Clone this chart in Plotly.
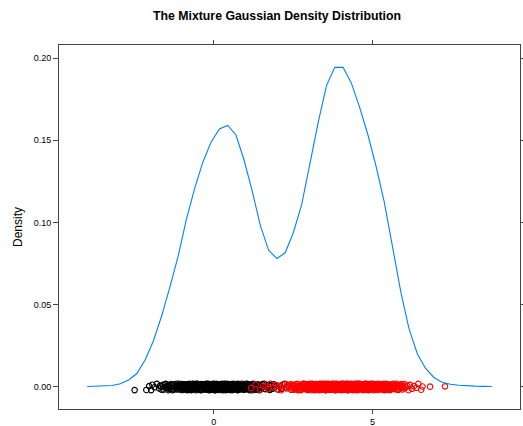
import plotly.graph_objects as go

# ---- density curve ----
dens_x = [-3.98, -3.72, -3.46, -3.20, -2.94, -2.68, -2.42, -2.16, -1.90, -1.64,
          -1.38, -1.12, -0.86, -0.60, -0.34, -0.08, 0.18, 0.44, 0.70, 0.95,
          1.21, 1.47, 1.73, 1.99, 2.25, 2.51, 2.77, 3.03, 3.29, 3.55,
          3.81, 4.07, 4.33, 4.59, 4.85, 5.11, 5.37, 5.63, 5.89, 6.15,
          6.41, 6.67, 6.93, 7.19, 7.45, 7.71, 7.97, 8.23, 8.49, 8.75]
dens_y = [0.0001, 0.0002, 0.0004, 0.0007, 0.0018, 0.0041, 0.0080, 0.0162, 0.0278, 0.0430,
          0.0606, 0.0794, 0.1019, 0.1207, 0.1368, 0.1490, 0.1569, 0.1590, 0.1532, 0.1383,
          0.1192, 0.0979, 0.0830, 0.0780, 0.0815, 0.0940, 0.1110, 0.1371, 0.1611, 0.1833,
          0.1944, 0.1944, 0.1849, 0.1702, 0.1535, 0.1341, 0.1122, 0.0849, 0.0575, 0.0350,
          0.0199, 0.0111, 0.0056, 0.0027, 0.0015, 0.0009, 0.0005, 0.0003, 0.0002, 0.0001]

# ---- group 1 observations (black) ----
black_x = [-2.49, -2.12, -2.03,
           -1.97, -1.93, -1.86, -1.79, -1.72, -1.66, -1.58, -1.53,
           -1.49, -1.46, -1.43, -1.41, -1.38, -1.35, -1.31, -1.29, -1.26, -1.22,
           -1.19, -1.17, -1.13, -1.10, -1.08, -1.05, -1.03, -1.01,
           -0.99, -0.97, -0.95, -0.94, -0.92, -0.90, -0.88, -0.86, -0.84, -0.83,
           -0.81, -0.79, -0.77, -0.76, -0.74, -0.72, -0.70, -0.68, -0.66, -0.65,
           -0.63, -0.61, -0.59, -0.57, -0.56, -0.54, -0.52, -0.51,
           -0.49, -0.48, -0.46, -0.45, -0.43, -0.42, -0.41, -0.39, -0.38, -0.36,
           -0.35, -0.33, -0.32, -0.31, -0.29, -0.28, -0.26, -0.25, -0.23, -0.22,
           -0.21, -0.19, -0.18, -0.16, -0.15, -0.13, -0.12, -0.11, -0.09, -0.08,
           -0.06, -0.05, -0.03, -0.02, -0.01,
           0.01, 0.02, 0.04, 0.05, 0.06, 0.08, 0.09, 0.11, 0.12, 0.13,
           0.15, 0.16, 0.18, 0.19, 0.20, 0.22, 0.23, 0.24, 0.26, 0.27,
           0.29, 0.30, 0.31, 0.33, 0.34, 0.35, 0.37, 0.38, 0.40, 0.41,
           0.42, 0.44, 0.45, 0.46, 0.48, 0.49,
           0.51, 0.52, 0.54, 0.56, 0.57, 0.59, 0.61, 0.62, 0.64, 0.66,
           0.67, 0.69, 0.71, 0.72, 0.74, 0.76, 0.77, 0.79, 0.81, 0.82,
           0.84, 0.86, 0.87, 0.89, 0.91, 0.92, 0.94, 0.96, 0.97, 0.99,
           1.01, 1.03, 1.06, 1.08, 1.10, 1.13, 1.15, 1.17, 1.19, 1.22,
           1.24, 1.26, 1.29, 1.31, 1.33, 1.35, 1.38, 1.40, 1.42, 1.44, 1.47, 1.49,
           1.52, 1.55, 1.59, 1.63, 1.66, 1.70, 1.74, 1.77, 1.81, 1.85, 1.89, 1.93, 1.97,
           2.02, 2.08, 2.14, 2.21, 2.28, 2.35, 2.44,
           -1.69, -1.64, -1.60, -1.56, -1.51, -1.47, -1.43, -1.39, -1.34, -1.30, -1.26, -1.22,
           -1.18, -1.16, -1.13, -1.11, -1.09, -1.06, -1.04, -1.02, -0.99, -0.97, -0.95,
           -0.92, -0.90, -0.88, -0.86, -0.83, -0.81, -0.79, -0.77, -0.75, -0.73, -0.71,
           -0.69, -0.68, -0.66, -0.64, -0.63, -0.61, -0.59, -0.58, -0.56, -0.54, -0.53, -0.51,
           -0.49, -0.48, -0.46, -0.44, -0.43, -0.41, -0.39, -0.38, -0.36, -0.34, -0.33, -0.31,
           -0.29, -0.28, -0.26, -0.24, -0.23, -0.21,
           -0.19, -0.18, -0.16, -0.15, -0.13, -0.12, -0.10, -0.09, -0.07, -0.06, -0.04, -0.03,
           -0.01, 0.00, 0.02, 0.03, 0.05, 0.06, 0.08, 0.09, 0.11, 0.12, 0.14, 0.15,
           0.17, 0.18, 0.20, 0.21, 0.23, 0.25, 0.27, 0.29,
           0.31, 0.33, 0.34, 0.36, 0.38, 0.40, 0.41, 0.43, 0.45, 0.47, 0.48, 0.50,
           0.52, 0.54, 0.55, 0.57, 0.59, 0.61, 0.62, 0.64, 0.66, 0.68, 0.69, 0.71,
           0.73, 0.75, 0.76, 0.78,
           0.81, 0.84, 0.86, 0.89, 0.92, 0.95, 0.97, 1.00, 1.03, 1.06, 1.08, 1.11,
           1.14, 1.17, 1.19, 1.22, 1.25, 1.28,
           1.32, 1.37, 1.43, 1.48, 1.54, 1.60, 1.67, 1.75]
black_y = [-0.0021, -0.0020, 0.0003, -0.0021, 0.0012, -0.0004, 0.0017, -0.0011, 0.0001, -0.0018,
           0.0014, -0.0007, 0.0005, -0.0022, 0.0010, -0.0002, 0.0016, -0.0013, 0.0007, -0.0019,
           0.0002, -0.0009, 0.0018, -0.0016, 0.0004, -0.0005, 0.0011, -0.0020, 0.0009, -0.0001,
           -0.0014, 0.0015, -0.0008, 0.0006, -0.0017, 0.0013, -0.0003, 0.0000, -0.0021, 0.0010,
           -0.0006, 0.0017, -0.0012, 0.0004, -0.0019, 0.0008, -0.0010, 0.0016, -0.0002, 0.0003,
           -0.0015, 0.0012, -0.0022, 0.0007, -0.0005, 0.0018, -0.0013, 0.0001, -0.0008, 0.0014,
           -0.0018, 0.0005, -0.0003, 0.0011, -0.0020, 0.0009, -0.0011, 0.0015, -0.0007, 0.0002,
           -0.0016, 0.0013, -0.0001, 0.0006, -0.0012, 0.0017, -0.0019, 0.0004, -0.0009, 0.0010,
           -0.0004, 0.0016, -0.0021, 0.0008, -0.0014, 0.0000, -0.0006, 0.0012, -0.0017, 0.0003,
           0.0018, -0.0010, 0.0007, -0.0002, 0.0014, -0.0022, 0.0005, -0.0013, 0.0011, -0.0007,
           0.0001, -0.0017, 0.0015, -0.0005, 0.0009, -0.0020, 0.0013, -0.0001, 0.0006, -0.0014,
           0.0017, -0.0008, 0.0002, -0.0018, 0.0011, -0.0003, 0.0016, -0.0012, 0.0004, -0.0021,
           0.0010, -0.0006, 0.0018, -0.0015, 0.0003, -0.0009, 0.0014, -0.0019, 0.0007, -0.0002,
           -0.0011, 0.0012, -0.0022, 0.0005, -0.0004, 0.0017, -0.0016, 0.0000, -0.0010, 0.0015,
           -0.0013, 0.0008, -0.0007, 0.0002, -0.0020, 0.0011, -0.0001, 0.0014, -0.0017, 0.0006,
           -0.0005, 0.0018, -0.0012, 0.0009, -0.0019, 0.0003, -0.0008, 0.0013, -0.0015, 0.0001,
           0.0016, -0.0003, 0.0007, -0.0021, 0.0012, -0.0010, 0.0004, -0.0014, 0.0017, -0.0006,
           0.0000, -0.0018, 0.0010, -0.0002, 0.0015, -0.0011, 0.0005, -0.0022, 0.0008, -0.0009,
           0.0013, -0.0004, 0.0018, -0.0016, 0.0002, -0.0007, 0.0011, -0.0020, 0.0006, -0.0013,
           0.0014, -0.0001, 0.0009, -0.0017, 0.0003, -0.0012, 0.0016, -0.0005, 0.0007, -0.0019,
           0.0005, -0.0019, 0.0012, -0.0003, 0.0017, -0.0010, 0.0001, -0.0015, 0.0009, -0.0022,
           0.0014, -0.0006, 0.0003, -0.0017, 0.0011, -0.0001, 0.0018, -0.0012, 0.0006, -0.0008,
           0.0016, -0.0020, 0.0008, -0.0004, 0.0013, -0.0014, 0.0000, -0.0009, 0.0015, -0.0018,
           0.0002, -0.0011, 0.0010, -0.0021, 0.0007, -0.0002, 0.0017, -0.0016, 0.0004, -0.0007,
           0.0012, -0.0013, 0.0018, -0.0005, 0.0001, -0.0019, 0.0009, -0.0010, 0.0014, -0.0003,
           0.0006, -0.0022, 0.0016, -0.0008, 0.0003, -0.0015, 0.0011, -0.0001, 0.0007, -0.0017,
           0.0013, -0.0004, 0.0000, -0.0012, 0.0018, -0.0020, 0.0005, -0.0006, 0.0010, -0.0014,
           0.0015, -0.0009, 0.0002, -0.0018, 0.0008, -0.0003, 0.0016, -0.0011, 0.0004, -0.0021,
           0.0011, -0.0007, 0.0017, -0.0015, 0.0001, -0.0010, 0.0013, -0.0019, 0.0006, -0.0002,
           0.0009, -0.0016, 0.0014, -0.0005, 0.0003, -0.0022, 0.0012, -0.0008, 0.0018, -0.0012,
           0.0000, -0.0017, 0.0007, -0.0001, 0.0015, -0.0013, 0.0004, -0.0020, 0.0010, -0.0006,
           0.0016, -0.0003, 0.0008, -0.0018, 0.0002, -0.0009, 0.0014, -0.0015, 0.0005, -0.0011,
           0.0012, -0.0021, 0.0017, -0.0007, 0.0006, -0.0014, 0.0001, -0.0004, 0.0011, -0.0019,
           0.0003, -0.0010, 0.0018, -0.0016, 0.0009, -0.0002, 0.0013, -0.0012, 0.0007, -0.0022,
           0.0015, -0.0005, 0.0004, -0.0017, 0.0010, -0.0008, 0.0016, -0.0013, 0.0002, -0.0018]

# ---- group 2 observations (red) ----
red_x = [1.18, 1.32, 1.46,
         1.56, 1.64, 1.72, 1.79, 1.87, 1.95,
         2.03, 2.07, 2.12, 2.16, 2.21, 2.25, 2.29, 2.33, 2.38, 2.42, 2.45, 2.49,
         2.51, 2.54, 2.56, 2.58, 2.61, 2.63, 2.65, 2.68, 2.70, 2.72,
         2.74, 2.77, 2.79, 2.81, 2.83, 2.86, 2.88, 2.90, 2.92, 2.95, 2.97, 2.99,
         3.01, 3.02, 3.04, 3.05, 3.06, 3.08, 3.09, 3.11, 3.12, 3.13,
         3.15, 3.16, 3.18, 3.19, 3.20, 3.22, 3.23, 3.24, 3.26, 3.27,
         3.29, 3.30, 3.31, 3.33, 3.34, 3.35, 3.37, 3.38, 3.40, 3.41,
         3.42, 3.44, 3.45, 3.46, 3.48, 3.49,
         3.50, 3.51, 3.53, 3.53, 3.54, 3.56, 3.57, 3.57, 3.59, 3.60,
         3.61, 3.62, 3.64, 3.64, 3.65, 3.67, 3.68, 3.69, 3.69, 3.71,
         3.72, 3.73, 3.75, 3.75, 3.76, 3.78, 3.79, 3.80, 3.80, 3.82,
         3.83, 3.85, 3.85, 3.86, 3.88, 3.89, 3.90, 3.91, 3.92, 3.93,
         3.94, 3.94, 3.96, 3.97, 3.98, 3.98, 3.99, 3.99,
         4.00, 4.01, 4.01, 4.02, 4.03, 4.04, 4.05, 4.06, 4.06, 4.07,
         4.08, 4.09, 4.10, 4.11, 4.12, 4.12, 4.13, 4.14, 4.15, 4.16,
         4.17, 4.18, 4.18, 4.19, 4.20, 4.21, 4.22, 4.23, 4.24, 4.24,
         4.25, 4.26, 4.27, 4.28, 4.29, 4.30, 4.31, 4.32, 4.33, 4.34,
         4.35, 4.36, 4.37, 4.38, 4.39, 4.40, 4.41, 4.42, 4.44, 4.45, 4.47, 4.49,
         4.50, 4.51, 4.52, 4.53, 4.55, 4.56, 4.57, 4.58, 4.59, 4.61,
         4.62, 4.63, 4.64, 4.65, 4.67, 4.68, 4.69, 4.70, 4.71, 4.73,
         4.74, 4.75, 4.76, 4.77, 4.79, 4.80, 4.81, 4.82, 4.83, 4.85,
         4.86, 4.87, 4.88, 4.89, 4.91, 4.92, 4.93, 4.94, 4.95, 4.96,
         4.97, 4.98, 4.99, 4.99,
         5.01, 5.02, 5.04, 5.05, 5.07, 5.08, 5.10, 5.11, 5.13, 5.14,
         5.16, 5.17, 5.19, 5.20, 5.22, 5.23, 5.25, 5.26, 5.28, 5.29,
         5.31, 5.32, 5.34, 5.35, 5.37, 5.38, 5.40, 5.41, 5.43, 5.44,
         5.46, 5.47, 5.48, 5.49,
         5.51, 5.53, 5.55, 5.58, 5.60, 5.62, 5.64, 5.66, 5.68, 5.71,
         5.73, 5.75, 5.77, 5.79, 5.81, 5.84, 5.86, 5.88, 5.90, 5.92,
         5.94, 5.96, 5.99,
         6.02, 6.05, 6.09, 6.13, 6.18, 6.24, 6.30, 6.38, 6.44,
         6.53, 6.57, 6.81, 7.28,
         3.07, 3.25, 3.43, 4.54, 4.72, 4.84, 5.70,
         2.41, 2.45, 2.48, 2.52, 2.55, 2.59, 2.62, 2.66, 2.69, 2.73, 2.76, 2.80, 2.84, 2.88,
         2.91, 2.93, 2.95, 2.96, 2.98, 3.00, 3.02, 3.04, 3.06, 3.07, 3.09, 3.11, 3.13, 3.15,
         3.16, 3.18, 3.20, 3.22, 3.24, 3.25, 3.27, 3.29, 3.31, 3.33, 3.34, 3.36, 3.38, 3.39,
         3.40, 3.41, 3.43, 3.44, 3.46, 3.47, 3.48, 3.50, 3.51, 3.52, 3.54, 3.55, 3.56, 3.58,
         3.59, 3.60, 3.62, 3.63, 3.64, 3.66, 3.67, 3.68, 3.70, 3.71, 3.72, 3.74, 3.75, 3.76,
         3.78, 3.79, 3.80, 3.82, 3.83, 3.84, 3.86, 3.87, 3.88, 3.89,
         3.90, 3.91, 3.92, 3.94, 3.95, 3.96, 3.97, 3.98, 4.00, 4.01, 4.02, 4.03, 4.04, 4.06,
         4.07, 4.08, 4.09, 4.10, 4.12, 4.13, 4.14, 4.15, 4.16, 4.18, 4.19, 4.20, 4.21, 4.22,
         4.24, 4.25, 4.26, 4.27, 4.28, 4.30, 4.31, 4.32, 4.33, 4.34, 4.36, 4.37, 4.38, 4.39,
         4.40, 4.42, 4.43, 4.44, 4.46, 4.47, 4.48, 4.50, 4.51, 4.53, 4.54, 4.55, 4.57, 4.58,
         4.59, 4.61, 4.62, 4.64, 4.65, 4.66, 4.68, 4.69, 4.71, 4.72, 4.73, 4.75, 4.76, 4.77,
         4.79, 4.80, 4.82, 4.83, 4.84, 4.86, 4.87, 4.89,
         4.90, 4.92, 4.94, 4.96, 4.98, 5.00, 5.02, 5.04, 5.06, 5.08, 5.10, 5.12, 5.14,
         5.16, 5.18, 5.20, 5.22, 5.24, 5.26, 5.28, 5.30, 5.32, 5.34, 5.36, 5.37, 5.39,
         5.41, 5.44, 5.47, 5.50, 5.53, 5.56, 5.59, 5.62, 5.65, 5.68, 5.71, 5.74, 5.77,
         5.80, 5.84, 5.88]
red_y = [-0.0009, 0.0014, -0.0020, 0.0006, 0.0001, -0.0013, 0.0017, -0.0004, 0.0010, -0.0017,
         0.0003, -0.0022, 0.0012, -0.0007, 0.0018, -0.0011, 0.0005, -0.0001, 0.0015, -0.0019,
         0.0008, -0.0005, 0.0013, -0.0015, 0.0000, -0.0010, 0.0016, -0.0021, 0.0004, -0.0003,
         0.0011, -0.0018, 0.0007, -0.0008, 0.0017, -0.0012, 0.0002, -0.0016, 0.0014, -0.0006,
         0.0009, -0.0020, 0.0005, -0.0002, 0.0018, -0.0014, 0.0001, -0.0009, 0.0012, -0.0022,
         0.0006, -0.0004, 0.0015, -0.0017, 0.0003, -0.0011, 0.0010, -0.0019, 0.0016, -0.0007,
         0.0000, -0.0013, 0.0013, -0.0001, 0.0008, -0.0021, 0.0004, -0.0010, 0.0017, -0.0005,
         0.0002, -0.0016, 0.0011, -0.0008, 0.0014, -0.0018, 0.0007, -0.0003, 0.0018, -0.0012,
         0.0005, -0.0022, 0.0009, -0.0006, 0.0016, -0.0015, 0.0001, -0.0011, 0.0012, -0.0002,
         0.0015, -0.0019, 0.0003, -0.0009, 0.0010, -0.0014, 0.0006, -0.0020, 0.0013, -0.0004,
         0.0017, -0.0007, 0.0000, -0.0017, 0.0008, -0.0012, 0.0014, -0.0001, 0.0004, -0.0021,
         0.0011, -0.0005, 0.0018, -0.0010, 0.0002, -0.0016, 0.0007, -0.0008, 0.0015, -0.0013,
         0.0003, -0.0020, 0.0012, -0.0003, 0.0009, -0.0018, 0.0016, -0.0006, 0.0001, -0.0011,
         0.0013, -0.0022, 0.0006, -0.0014, 0.0017, -0.0002, 0.0010, -0.0019, 0.0004, -0.0009,
         0.0008, -0.0015, 0.0014, -0.0004, 0.0000, -0.0012, 0.0018, -0.0007, 0.0011, -0.0017,
         0.0005, -0.0001, 0.0016, -0.0021, 0.0007, -0.0010, 0.0002, -0.0013, 0.0015, -0.0006,
         0.0012, -0.0018, 0.0004, -0.0008, 0.0017, -0.0003, 0.0009, -0.0016, 0.0001, -0.0020,
         0.0014, -0.0011, 0.0006, -0.0005, 0.0010, -0.0022, 0.0013, -0.0002, 0.0018, -0.0014,
         0.0000, -0.0009, 0.0011, -0.0019, 0.0003, -0.0007, 0.0016, -0.0012, 0.0008, -0.0004,
         0.0015, -0.0017, 0.0002, -0.0010, 0.0012, -0.0001, 0.0007, -0.0021, 0.0014, -0.0008,
         0.0004, -0.0013, 0.0018, -0.0006, 0.0009, -0.0015, 0.0001, -0.0018, 0.0011, -0.0003,
         0.0016, -0.0009, 0.0005, -0.0020, 0.0013, -0.0011, 0.0008, -0.0002, 0.0017, -0.0016,
         0.0002, -0.0005, 0.0010, -0.0014, 0.0006, -0.0022, 0.0015, -0.0007, 0.0003, -0.0012,
         0.0012, -0.0019, 0.0000, -0.0004, 0.0018, -0.0010, 0.0007, -0.0017, 0.0014, -0.0001,
         0.0009, -0.0013, 0.0003, -0.0008, 0.0016, -0.0020, 0.0011, -0.0005, 0.0006, -0.0015,
         0.0017, -0.0002, 0.0008, -0.0018, 0.0001, -0.0011, 0.0013, -0.0009, 0.0004, -0.0021,
         0.0010, -0.0006, 0.0015, -0.0012, 0.0005, -0.0016, 0.0002, -0.0003, 0.0018, -0.0014,
         0.0007, -0.0020, 0.0012, -0.0001, 0.0009, -0.0008, 0.0016, -0.0017, 0.0000, -0.0010,
         0.0014, -0.0004, 0.0006, -0.0022, 0.0011, -0.0013, 0.0003, -0.0007, 0.0017, -0.0019,
         0.0001, 0.0000, 0.0002, -0.0005, 0.0008, -0.0015, 0.0018, -0.0009, 0.0004, -0.0002,
         0.0012, -0.0004, 0.0007, -0.0019, 0.0001, -0.0011, 0.0016, -0.0008, 0.0003, -0.0022,
         0.0010, -0.0015, 0.0018, -0.0002, 0.0005, -0.0013, 0.0014, -0.0020, 0.0008, -0.0006,
         0.0000, -0.0017, 0.0013, -0.0009, 0.0017, -0.0003, 0.0006, -0.0014, 0.0011, -0.0021,
         0.0004, -0.0007, 0.0015, -0.0012, 0.0002, -0.0018, 0.0009, -0.0001, 0.0016, -0.0010,
         0.0007, -0.0020, 0.0012, -0.0005, 0.0018, -0.0016, 0.0001, -0.0008, 0.0014, -0.0013,
         0.0003, -0.0022, 0.0010, -0.0002, 0.0006, -0.0011, 0.0017, -0.0019, 0.0008, -0.0004,
         0.0015, -0.0009, 0.0000, -0.0015, 0.0011, -0.0006, 0.0013, -0.0018, 0.0005, -0.0001,
         0.0018, -0.0012, 0.0004, -0.0021, 0.0009, -0.0003, 0.0016, -0.0007, 0.0002, -0.0014,
         0.0011, -0.0017, 0.0006, -0.0010, 0.0014, -0.0020, 0.0001, -0.0005, 0.0012, -0.0008,
         0.0008, -0.0002, 0.0017, -0.0013, 0.0003, -0.0019, 0.0010, -0.0011, 0.0015, -0.0006,
         0.0005, -0.0016, 0.0013, -0.0004, 0.0000, -0.0022, 0.0018, -0.0009, 0.0007, -0.0012,
         0.0016, -0.0001, 0.0009, -0.0018, 0.0002, -0.0007, 0.0011, -0.0015, 0.0004, -0.0020,
         0.0014, -0.0010, 0.0006, -0.0003, 0.0017, -0.0014, 0.0001, -0.0017, 0.0012, -0.0005,
         0.0009, -0.0021, 0.0015, -0.0008, 0.0003, -0.0012, 0.0018, -0.0002, 0.0010, -0.0016,
         0.0002, -0.0006, 0.0012, -0.0019, 0.0007, -0.0011, 0.0014, -0.0004, 0.0000, -0.0013,
         0.0017, -0.0018, 0.0005, -0.0001, 0.0011, -0.0022, 0.0008, -0.0010, 0.0016, -0.0007,
         0.0004, -0.0014, 0.0010, -0.0005, 0.0018, -0.0017, 0.0002, -0.0009, 0.0013, -0.0003,
         0.0012, -0.0020, 0.0006, -0.0012, 0.0015, -0.0002, 0.0009, -0.0015, 0.0001, -0.0008,
         0.0016, -0.0011, 0.0003, -0.0021, 0.0008, -0.0006, 0.0014, -0.0018, 0.0011, -0.0004,
         0.0007, -0.0013, 0.0017, -0.0001, 0.0005, -0.0016, 0.0010, -0.0019, 0.0002, -0.0009]

x_ticks = [0, 5]
y_ticks = [0.00, 0.05, 0.10, 0.15, 0.20]
y_ticklabels = ["0.00", "0.05", "0.10", "0.15", "0.20"]

nb = min(len(black_x), len(black_y))
nr = min(len(red_x), len(red_y))

fig = go.Figure()
fig.add_trace(go.Scatter(
    x=black_x[:nb], y=black_y[:nb], mode="markers",
    marker=dict(symbol="circle-open", size=5.5, color="black", line=dict(width=1.1)),
    showlegend=False, hoverinfo="skip"))
fig.add_trace(go.Scatter(
    x=red_x[:nr], y=red_y[:nr], mode="markers",
    marker=dict(symbol="circle-open", size=5.5, color="red", line=dict(width=1.1)),
    showlegend=False, hoverinfo="skip"))
fig.add_trace(go.Scatter(
    x=dens_x, y=dens_y, mode="lines",
    line=dict(color="#0080ff", width=1.1),
    showlegend=False))

axis_common = dict(
    showline=True, linecolor="#444444", linewidth=1, mirror="ticks",
    tickwidth=1, tickcolor="#444444",
    showgrid=False, zeroline=False, automargin=False,
    tickfont=dict(family="Liberation Sans, Arial, sans-serif", size=9, color="black"),
)

fig.update_layout(
    width=523, height=426,
    margin=dict(l=59, r=3, t=45, b=17),
    paper_bgcolor="white", plot_bgcolor="white",
    title=dict(text="<b>The Mixture Gaussian Density Distribution</b>",
               x=277 / 523, xanchor="center", y=1 - 16 / 426, yanchor="middle",
               font=dict(family="Liberation Sans, Arial, sans-serif", size=12.3, color="black")),
    xaxis=dict(range=[-4.87, 9.64], tickvals=x_ticks, ticks="outside", ticklen=4,
               **axis_common),
    yaxis=dict(range=[-0.0136, 0.208], tickvals=y_ticks, ticktext=y_ticklabels,
               ticks="outside", ticklen=5,
               title=dict(text="Density", standoff=8,
                          font=dict(family="Liberation Sans, Arial, sans-serif", size=12, color="black")),
               **axis_common),
)

fig.write_html("out.html", config={"displayModeBar": False},
               post_script="document.body.style.margin='0px';")
